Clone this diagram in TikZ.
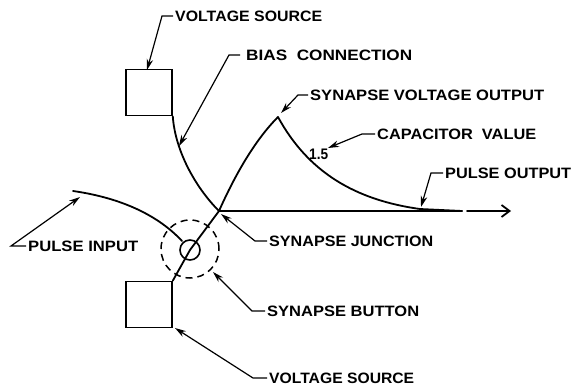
\documentclass[tikz,border=0pt]{standalone}
\usepackage{fontspec}
\setmainfont{Liberation Sans}
\usetikzlibrary{arrows.meta}
\newcommand{\lbtxt}[2]{\resizebox{#1pt}{10.5pt}{\bfseries #2}}
\tikzset{
  wire/.style={line width=1.8pt,line cap=round},
  box/.style={draw,line width=1.6pt,minimum size=46pt,inner sep=0pt},
  lab/.style={anchor=west,inner sep=0pt},
  leader/.style={line width=1.2pt,-{Stealth[length=11pt,width=6.5pt]}},
}
\begin{document}
\begin{tikzpicture}[x=1pt,y=-1pt]
\useasboundingbox (0,0) rectangle (571,385);
\node[box] (top) at (149,92.5) {};
\node[box] (bot) at (149,304.5) {};
\coordinate (J) at (219,211);
\coordinate (P) at (278,117);
\coordinate (S) at (190,250);
\coordinate (T) at (462,211);
\coordinate (A0) at (467,211);
\coordinate (A1) at (511,211);
\coordinate (In0) at (73,191);
\coordinate (In1) at (182,241);
\coordinate (D) at (420,209);
\node[draw,circle,line width=1.6pt,minimum size=20pt,inner sep=0pt] (syn) at (S) {};
\node[draw,circle,dash pattern=on 7pt off 5pt,line width=1.5pt,minimum size=58pt,inner sep=0pt] (btn) at (190,249) {};
% curves
\draw[wire] (top.south east) .. controls (175,150) and (195,187) .. (J);
\draw[wire] (bot.north east) -- (S) -- (J);
\draw[wire] (J) .. controls (235,175) and (255,140) .. (P);
\draw[wire] (P) .. controls (308,172) and (355,200) .. (D) -- (T);
\draw[wire] (J) -- (T);
\draw[wire,-{Straight Barb[length=8pt,width=12pt]}] (A0) -- (A1);
\draw[wire] (In0) .. controls (115,197) and (155,212) .. (In1);
\node[lab] (val) at (309,154) {\lbtxt{19}{1.5}};
% labels
\node[lab] (l1) at (175,16) {\lbtxt{147}{VOLTAGE SOURCE}};
\node[lab] (l2) at (246,55) {\lbtxt{166}{BIAS\ \ CONNECTION}};
\node[lab] (l3) at (310,95) {\lbtxt{234}{SYNAPSE VOLTAGE OUTPUT}};
\node[lab] (l4) at (377,134) {\lbtxt{159}{CAPACITOR\ \ VALUE}};
\node[lab] (l5) at (445,173) {\lbtxt{126}{PULSE OUTPUT}};
\node[lab] (l6) at (28,246) {\lbtxt{110}{PULSE INPUT}};
\node[lab] (l7) at (269,241) {\lbtxt{164}{SYNAPSE JUNCTION}};
\node[lab] (l8) at (267,311) {\lbtxt{152}{SYNAPSE BUTTON}};
\node[lab] (l9) at (269,378) {\lbtxt{145}{VOLTAGE SOURCE}};
% leaders
\coordinate (t1) at (147,70);
\coordinate (t2) at (179,146);
\coordinate (t3) at (281,113);
\coordinate (t4) at (328,148);
\coordinate (t5) at (421,207);
\coordinate (t6) at (80,197);
\coordinate (t7) at (221,214);
\coordinate (t8) at (213,272);
\coordinate (t9) at (175,328);
\draw[leader] ([xshift=-2pt]l1.west) -- ++(-11,0) -- (t1);
\draw[leader] ([xshift=-6pt]l2.west) -- ++(-11,0) -- (t2);
\draw[leader] ([xshift=-2pt]l3.west) -- ++(-10,0) -- (t3);
\draw[leader] ([xshift=-2pt]l4.west) -- ++(-13,0) -- (t4);
\draw[leader] ([xshift=-2pt]l5.west) -- ++(-12,0) -- (t5);
\draw[leader] ([xshift=-2pt]l6.west) -- ++(-15,0) -- (t6);
\draw[leader] ([xshift=-2pt]l7.west) -- ++(-12,0) -- (t7);
\draw[leader] ([xshift=-2pt]l8.west) -- ++(-13,0) -- (t8);
\draw[leader] ([xshift=-2pt]l9.west) -- ++(-14,0) -- (t9);
\end{tikzpicture}
\end{document}
